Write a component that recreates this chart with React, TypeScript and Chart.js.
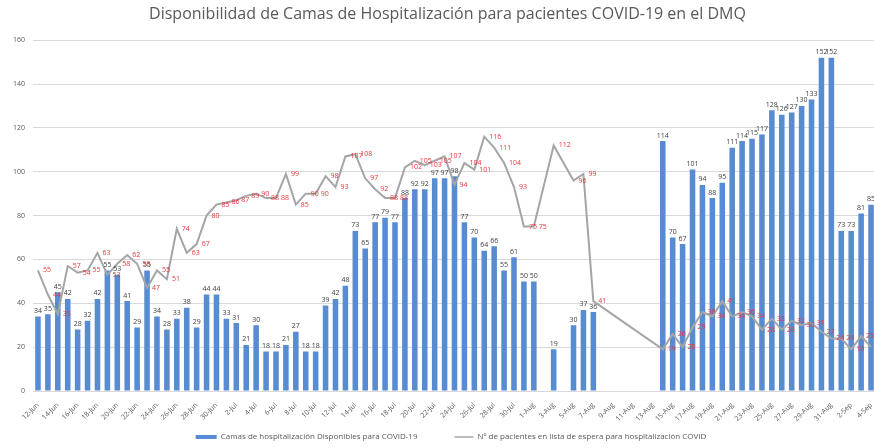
import React, { useEffect, useRef } from 'react';
import { Chart, registerables } from 'chart.js';

Chart.register(...registerables);

const TITLE = 'Disponibilidad de Camas de Hospitalización para pacientes COVID-19 en el DMQ';
const BAR_LABEL = 'Camas de hospitalización Disponibles para COVID-19';
const LINE_LABEL = 'Nº de pacientes en lista de espera para hospitalización COVID';

const categories: string[] = [
  '12-Jun', '13-Jun', '14-Jun', '15-Jun', '16-Jun', '17-Jun', '18-Jun', '19-Jun', '20-Jun', '21-Jun',
  '22-Jun', '23-Jun', '24-Jun', '25-Jun', '26-Jun', '27-Jun', '28-Jun', '29-Jun', '30-Jun',
  '1-Jul', '2-Jul', '3-Jul', '4-Jul', '5-Jul', '6-Jul', '7-Jul', '8-Jul', '9-Jul', '10-Jul',
  '11-Jul', '12-Jul', '13-Jul', '14-Jul', '15-Jul', '16-Jul', '17-Jul', '18-Jul', '19-Jul', '20-Jul',
  '21-Jul', '22-Jul', '23-Jul', '24-Jul', '25-Jul', '26-Jul', '27-Jul', '28-Jul', '29-Jul', '30-Jul', '31-Jul',
  '1-Aug', '2-Aug', '3-Aug', '4-Aug', '5-Aug', '6-Aug', '7-Aug', '8-Aug', '9-Aug', '10-Aug',
  '11-Aug', '12-Aug', '13-Aug', '14-Aug', '15-Aug', '16-Aug', '17-Aug', '18-Aug', '19-Aug', '20-Aug',
  '21-Aug', '22-Aug', '23-Aug', '24-Aug', '25-Aug', '26-Aug', '27-Aug', '28-Aug', '29-Aug', '30-Aug', '31-Aug',
  '1-Sep', '2-Sep', '3-Sep', '4-Sep',
];

const availableBeds: (number | null)[] = [
  34, 35, 45, 42, 28, 32, 42, 55, 53, 41, 29, 55,
  34, 28, 33, 38, 29, 44, 44, 33, 31, 21, 30, 18, 18,
  21, 27, 18, 18, 39, 42, 48, 73, 65, 77, 79, 77,
  88, 92, 92, 97, 97, 98, 77, 70, 64, 66, 55, 61, 50, 50,
  null, 19, null, 30, 37, 36,
  null, null, null, null, null, null,
  114, 70, 67, 101, 94, 88, 95, 111, 114, 115, 117, 128, 126, 127, 130, 133, 152, 152, 73, 73, 81, 85,
];

const waitingPatients: (number | null)[] = [
  55, 44, 35, 57, 54, 55, 63, 53, 58, 62, 58, 47,
  55, 51, 74, 63, 67, 80, 85, 86, 87, 89, 90, 88, 88,
  99, 85, 90, 90, 98, 93, 107, 108, 97, 92, 88, 88,
  102, 105, 103, 105, 107, 94, 104, 101, 116, 111, 104, 93, 75, 75,
  null, 112, null, 96, 99, 41,
  null, null, null, null, null, null,
  19, 26, 20, 29, 36, 34, 41, 34, 36, 34, 28, 33, 28, 32, 30, 31, 27, 24, 24, 19, 25, 20,
];

const Y_MIN = 0;
const Y_MAX = 160;
const Y_STEP = 20;

const BAR_COLOR = '#588CD2';
const LINE_COLOR = '#A5A5A5';
const RED = '#E8353B';
const TEXT = '#595959';
const GRID = '#D9D9D9';
const FONT = '"Open Sans", "DejaVu Sans", sans-serif';

const valueLabels = {
  id: 'valueLabels',
  afterDatasetsDraw(chart: any) {
    const ctx = chart.ctx;
    ctx.save();
    ctx.font = `7px ${FONT}`;
    chart.data.datasets.forEach((ds: any, di: number) => {
      const meta = chart.getDatasetMeta(di);
      meta.data.forEach((el: any, i: number) => {
        const v = ds.data[i];
        if (v == null) return;
        if (ds.type === 'bar') {
          ctx.fillStyle = '#404040';
          ctx.textAlign = 'center';
          ctx.textBaseline = 'bottom';
          ctx.fillText(String(v), el.x, el.y - 2);
        } else {
          ctx.fillStyle = RED;
          ctx.textAlign = 'left';
          ctx.textBaseline = 'middle';
          ctx.fillText(String(v), el.x + 5, el.y);
        }
      });
    });
    ctx.restore();
  },
};

const customLegend = {
  id: 'customLegend',
  afterDraw(chart: any) {
    const ctx = chart.ctx;
    ctx.save();
    ctx.font = `8px ${FONT}`;
    ctx.textBaseline = 'middle';
    ctx.textAlign = 'left';
    const items = [
      { kind: 'rect', color: BAR_COLOR, text: BAR_LABEL, w: 21 },
      { kind: 'line', color: LINE_COLOR, text: LINE_LABEL, w: 19 },
    ];
    const gap = 4;
    const spacing = 37;
    const widths = items.map((it) => it.w + gap + ctx.measureText(it.text).width);
    const total = widths.reduce((a, b) => a + b, 0) + spacing * (items.length - 1);
    const cx = 451;
    const y = 437;
    let x = cx - total / 2;
    items.forEach((it, k) => {
      if (it.kind === 'rect') {
        ctx.fillStyle = it.color;
        ctx.fillRect(x, y - 2, it.w, 4);
      } else {
        ctx.strokeStyle = it.color;
        ctx.lineWidth = 1.5;
        ctx.beginPath();
        ctx.moveTo(x, y);
        ctx.lineTo(x + it.w, y);
        ctx.stroke();
      }
      ctx.fillStyle = TEXT;
      ctx.fillText(it.text, x + it.w + gap, y);
      x += widths[k] + spacing;
    });
    ctx.restore();
  },
};

export default function App() {
  const ref = useRef<HTMLCanvasElement | null>(null);

  useEffect(() => {
    if (!ref.current) return;
    const chart = new Chart(ref.current, {
      type: 'bar',
      data: {
        labels: categories,
        datasets: [
          {
            type: 'bar',
            label: BAR_LABEL,
            data: availableBeds,
            backgroundColor: BAR_COLOR,
            borderWidth: 0,
            barPercentage: 0.56,
            categoryPercentage: 1,
            order: 1,
          } as any,
          {
            type: 'line',
            label: LINE_LABEL,
            data: waitingPatients,
            borderColor: LINE_COLOR,
            backgroundColor: LINE_COLOR,
            borderWidth: 2,
            pointRadius: 0,
            tension: 0,
            spanGaps: true,
            order: 0,
          } as any,
        ],
      },
      options: {
        responsive: false,
        devicePixelRatio: 1,
        animation: false,
        layout: { padding: { left: 0, right: 7, top: 0, bottom: 27 } },
        plugins: {
          legend: { display: false },
          tooltip: { enabled: false },
          title: {
            display: true,
            text: TITLE,
            color: TEXT,
            font: { family: FONT, size: 16, weight: 'normal' },
            padding: { top: 5, bottom: 16 },
          },
        },
        scales: {
          x: {
            type: 'category',
            offset: true,
            grid: { display: false },
            border: { display: true, color: GRID },
            ticks: {
              autoSkip: false,
              maxRotation: 45,
              minRotation: 45,
              padding: 2,
              color: TEXT,
              font: { family: FONT, size: 7 },
              callback: (_v: any, i: number) => (i % 2 === 0 ? categories[i] : ''),
            },
            afterFit: (s: any) => {
              s.height = 30;
            },
          },
          y: {
            min: Y_MIN,
            max: Y_MAX,
            grid: { color: GRID, drawTicks: false },
            border: { display: false },
            ticks: {
              stepSize: Y_STEP,
              padding: 8,
              color: TEXT,
              font: { family: FONT, size: 7 },
            },
            afterFit: (s: any) => {
              s.width = 33;
            },
          },
          yRight: {
            position: 'right',
            display: true,
            grid: { display: false },
            border: { display: false },
            ticks: { display: false },
            afterFit: (s: any) => {
              s.width = 19;
            },
          },
        },
      } as any,
      plugins: [valueLabels, customLegend],
    });
    return () => chart.destroy();
  }, []);

  return (
    <div
      style={{
        position: 'fixed',
        left: 0,
        top: 0,
        width: 874,
        height: 448,
        overflow: 'hidden',
        background: '#ffffff',
      }}
    >
      <canvas ref={ref} width={902} height={448} style={{ display: 'block', width: 902, height: 448 }} />
    </div>
  );
}
